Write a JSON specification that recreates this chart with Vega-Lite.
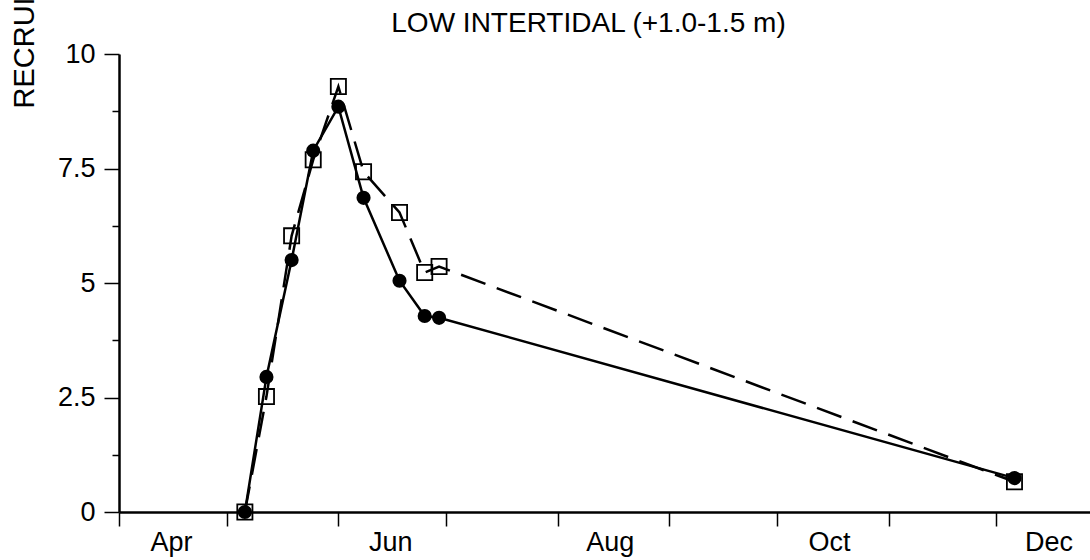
{
  "$schema": "https://vega.github.io/schema/vega-lite/v6.json",
  "width": 971,
  "height": 458,
  "autosize": {"type": "none"},
  "padding": {"left": 119, "top": 54, "right": 0, "bottom": 48},
  "background": "white",
  "title": {
    "text": "LOW INTERTIDAL (+1.0-1.5 m)",
    "anchor": "middle",
    "frame": "group",
    "font": "Liberation Sans",
    "fontSize": 28,
    "fontWeight": "normal",
    "color": "black",
    "baseline": "alphabetic",
    "offset": -163,
    "dx": -16
  },
  "config": {"view": {"stroke": null}},
  "data": {
    "values": [
      {"date": "1995-05-06", "value": 0, "series": "A"},
      {"date": "1995-05-12", "value": 2.95, "series": "A"},
      {"date": "1995-05-19", "value": 5.5, "series": "A"},
      {"date": "1995-05-25", "value": 7.89, "series": "A"},
      {"date": "1995-06-01", "value": 8.85, "series": "A"},
      {"date": "1995-06-08", "value": 6.86, "series": "A"},
      {"date": "1995-06-18", "value": 5.05, "series": "A"},
      {"date": "1995-06-25", "value": 4.28, "series": "A"},
      {"date": "1995-06-29", "value": 4.24, "series": "A"},
      {"date": "1995-12-06", "value": 0.74, "series": "A"},
      {"date": "1995-05-06", "value": 0, "series": "B"},
      {"date": "1995-05-12", "value": 2.52, "series": "B"},
      {"date": "1995-05-19", "value": 6.03, "series": "B"},
      {"date": "1995-05-25", "value": 7.69, "series": "B"},
      {"date": "1995-06-01", "value": 9.29, "series": "B"},
      {"date": "1995-06-08", "value": 7.43, "series": "B"},
      {"date": "1995-06-18", "value": 6.54, "series": "B"},
      {"date": "1995-06-25", "value": 5.23, "series": "B"},
      {"date": "1995-06-29", "value": 5.36, "series": "B"},
      {"date": "1995-12-06", "value": 0.66, "series": "B"}
    ]
  },
  "encoding": {
    "x": {
      "field": "date",
      "type": "temporal",
      "scale": {
        "type": "utc",
        "domain": [
          {"year": 1995, "month": 4, "date": 1, "utc": true},
          {"year": 1995, "month": 12, "date": 27, "utc": true}
        ]
      },
      "axis": {
        "values": [
          {"year": 1995, "month": 4, "date": 1, "utc": true},
          {"year": 1995, "month": 5, "date": 1, "utc": true},
          {"year": 1995, "month": 6, "date": 1, "utc": true},
          {"year": 1995, "month": 7, "date": 1, "utc": true},
          {"year": 1995, "month": 8, "date": 1, "utc": true},
          {"year": 1995, "month": 9, "date": 1, "utc": true},
          {"year": 1995, "month": 10, "date": 1, "utc": true},
          {"year": 1995, "month": 11, "date": 1, "utc": true},
          {"year": 1995, "month": 12, "date": 1, "utc": true}
        ],
        "labelExpr": "indexof(['Apr','Jun','Aug','Oct','Dec'], utcFormat(datum.value, '%b')) >= 0 ? utcFormat(datum.value, '%b') : ''",
        "labelOffset": 52,
        "labelOverlap": false,
        "labelFlush": false,
        "labelBound": false,
        "grid": false,
        "title": null,
        "tickSize": 14,
        "tickWidth": 1.5,
        "tickColor": "black",
        "domainColor": "black",
        "domainWidth": 2.5,
        "labelFont": "Liberation Sans",
        "labelFontSize": 27,
        "labelColor": "black",
        "labelPadding": 3
      }
    },
    "y": {
      "field": "value",
      "type": "quantitative",
      "scale": {"domain": [0, 10], "nice": false},
      "axis": {
        "values": [0, 1.25, 2.5, 3.75, 5, 6.25, 7.5, 8.75, 10],
        "labelExpr": "datum.value % 2.5 === 0 ? format(datum.value, '~g') : ''",
        "tickSize": {"condition": {"test": "datum.value % 2.5 === 0", "value": 15}, "value": 7},
        "tickWidth": 1.5,
        "tickColor": "black",
        "domainColor": "black",
        "domainWidth": 2.5,
        "grid": false,
        "labelFont": "Liberation Sans",
        "labelFontSize": 27,
        "labelColor": "black",
        "labelPadding": 9,
        "labelOverlap": false,
        "title": "RECRUITMENT",
        "titleFont": "Liberation Sans",
        "titleFontSize": 29,
        "titleFontWeight": "normal",
        "titleColor": "black",
        "titleAngle": 270,
        "titleAlign": "left",
        "titleBaseline": "alphabetic",
        "titleX": -86,
        "titleY": 54
      }
    }
  },
  "layer": [
    {
      "transform": [{"filter": "datum.series === 'B'"}],
      "mark": {"type": "line", "stroke": "black", "strokeWidth": 2.5, "strokeDash": [26, 12]}
    },
    {
      "transform": [{"filter": "datum.series === 'A'"}],
      "mark": {"type": "line", "stroke": "black", "strokeWidth": 2.5}
    },
    {
      "transform": [{"filter": "datum.series === 'B'"}],
      "mark": {"type": "point", "shape": "square", "filled": false, "stroke": "black", "strokeWidth": 1.8, "size": 230, "opacity": 1}
    },
    {
      "transform": [{"filter": "datum.series === 'A'"}],
      "mark": {"type": "circle", "color": "black", "size": 200, "opacity": 1}
    }
  ]
}
